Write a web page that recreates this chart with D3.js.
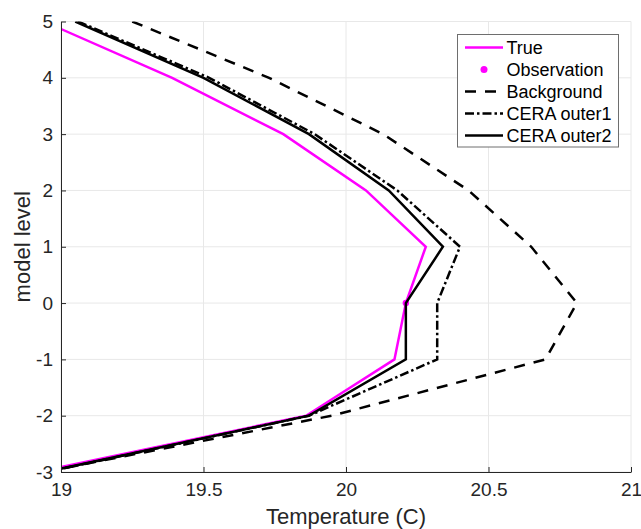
<!DOCTYPE html>
<html>
<head>
<meta charset="utf-8">
<script src="https://cdn.jsdelivr.net/npm/d3@7"></script>
<style>
  html, body { margin: 0; padding: 0; background: #fff; }
  svg { display: block; font-family: "Liberation Sans", Arial, Helvetica, sans-serif; }
</style>
</head>
<body>
<svg id="chart" width="641" height="529"></svg>
<script>
// ---- data ----
const levels = [5, 4, 3, 2, 1, 0, -1, -2, -3];
const trueTemp = [18.94, 19.39, 19.78, 20.07, 20.28, 20.21, 20.17, 19.86, 18.915];
const backgroundTemp = [19.25, 19.73, 20.13, 20.43, 20.65, 20.81, 20.70, 19.95, 18.94];
const ceraOuter1 = [19.06, 19.52, 19.89, 20.18, 20.40, 20.32, 20.32, 19.87, 18.95];
const ceraOuter2 = [19.05, 19.50, 19.87, 20.15, 20.34, 20.21, 20.21, 19.87, 18.945];
const obsTemp = [20.21];
const obsLevel = [0];
const xTicks = [19, 19.5, 20, 20.5, 21];
const xTickLabels = ["19", "19.5", "20", "20.5", "21"];
const yTicks = [-3, -2, -1, 0, 1, 2, 3, 4, 5];
const yTickLabels = ["-3", "-2", "-1", "0", "1", "2", "3", "4", "5"];
const legendLabels = ["True", "Observation", "Background", "CERA outer1", "CERA outer2"];

// ---- layout ----
const svg = d3.select("#chart");
const L = 61, R = 631, T = 21.5, B = 472;
const x = d3.scaleLinear().domain([19, 21]).range([L, R]);
const y = d3.scaleLinear().domain([-3, 5]).range([B, T]);
const axisColor = "#262626";

// grid
const grid = svg.append("g");
grid.selectAll("line.gx").data(xTicks).join("line")
  .attr("x1", d => x(d)).attr("x2", d => x(d)).attr("y1", T).attr("y2", B)
  .attr("stroke", "#e8e8e8").attr("stroke-width", 1);
grid.selectAll("line.gy").data(yTicks).join("line")
  .attr("x1", L).attr("x2", R).attr("y1", d => y(d)).attr("y2", d => y(d))
  .attr("stroke", "#e8e8e8").attr("stroke-width", 1);

// clip
svg.append("clipPath").attr("id", "clip").append("rect")
  .attr("x", L).attr("y", T).attr("width", R - L).attr("height", B - T);

const line = d3.line().x(d => x(d[0])).y(d => y(d[1]));
const plot = svg.append("g").attr("clip-path", "url(#clip)");

const series = [
  { vals: trueTemp, color: "#ff00ff", dash: null, w: 2.5 },
  { vals: backgroundTemp, color: "#000", dash: "11,9", w: 2.5 },
  { vals: ceraOuter1, color: "#000", dash: "9,3,2.5,3", w: 2.5 },
  { vals: ceraOuter2, color: "#000", dash: null, w: 2.5 }
];
// true line
plot.append("path").datum(trueTemp.map((v, i) => [v, levels[i]]))
  .attr("d", line).attr("fill", "none").attr("stroke", series[0].color)
  .attr("stroke-width", series[0].w).attr("stroke-linejoin", "miter");
// observation
plot.selectAll("circle.obs").data(obsTemp).join("circle")
  .attr("cx", d => x(d)).attr("cy", (d, i) => y(obsLevel[i])).attr("r", 3.2)
  .attr("fill", "#ff00ff");
series.slice(1).forEach(s => {
  plot.append("path").datum(s.vals.map((v, i) => [v, levels[i]]))
    .attr("d", line).attr("fill", "none").attr("stroke", s.color)
    .attr("stroke-width", s.w).attr("stroke-dasharray", s.dash)
    .attr("stroke-linejoin", "miter");
});

// axes
const xAxis = d3.axisBottom(x).tickValues(xTicks)
  .tickFormat((d, i) => xTickLabels[i]).tickSizeInner(-5).tickSizeOuter(0).tickPadding(11);
const yAxis = d3.axisLeft(y).tickValues(yTicks)
  .tickFormat((d, i) => yTickLabels[i]).tickSizeInner(-5).tickSizeOuter(0).tickPadding(8);

const gx = svg.append("g").attr("transform", `translate(0,${B})`).call(xAxis);
const gy = svg.append("g").attr("transform", `translate(${L},0)`).call(yAxis);
[gx, gy].forEach(g => {
  g.select(".domain").attr("stroke", axisColor).attr("stroke-width", 1);
  g.selectAll(".tick line").attr("stroke", axisColor).attr("stroke-width", 1);
  g.selectAll(".tick text").attr("fill", axisColor)
    .style("font-size", "19px").style("font-family", "'Liberation Sans', Arial, sans-serif");
});

// axis labels
svg.append("text").attr("x", (L + R) / 2).attr("y", 524)
  .attr("text-anchor", "middle").attr("fill", axisColor)
  .style("font-size", "22px").text("Temperature (C)");
svg.append("text").attr("transform", `translate(30,${(T + B) / 2}) rotate(-90)`)
  .attr("text-anchor", "middle").attr("fill", axisColor)
  .style("font-size", "22px").text("model level");

// legend
const lg = svg.append("g");
lg.append("rect").attr("x", 457.5).attr("y", 34.5).attr("width", 161).attr("height", 112.5)
  .attr("fill", "#fff").attr("stroke", "#6e6e6e").attr("stroke-width", 1);
const rowY = d3.scaleLinear().domain([0, 4]).range([47.5, 135.5]);
const legendItems = [
  { type: "line", color: "#ff00ff", dash: null },
  { type: "dot", color: "#ff00ff" },
  { type: "line", color: "#000", dash: "11,9" },
  { type: "line", color: "#000", dash: "9,3,2.5,3" },
  { type: "line", color: "#000", dash: null }
];
legendItems.forEach((it, i) => {
  const cy = rowY(i);
  if (it.type === "line") {
    lg.append("line").attr("x1", 465).attr("x2", 503).attr("y1", cy).attr("y2", cy)
      .attr("stroke", it.color).attr("stroke-width", 2.5).attr("stroke-dasharray", it.dash);
  } else {
    lg.append("circle").attr("cx", 484).attr("cy", cy).attr("r", 3.5).attr("fill", it.color);
  }
  lg.append("text").attr("x", 506.5).attr("y", cy).attr("dy", "0.36em")
    .attr("fill", "#000").style("font-size", "18px").text(legendLabels[i]);
});
</script>
</body>
</html>
